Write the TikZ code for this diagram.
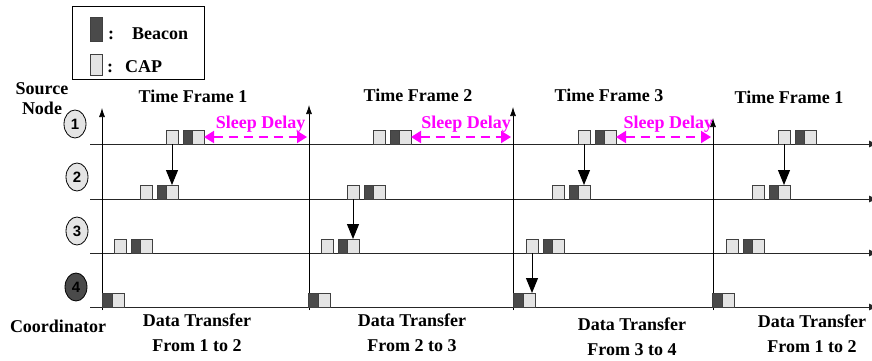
\documentclass[tikz,border=0pt]{standalone}
\usepackage{fontspec}
\setmainfont{Liberation Serif}
\newfontfamily\numfont{Liberation Sans}
\usepackage{tikz}
\usetikzlibrary{arrows.meta, positioning, shapes.geometric}
\definecolor{capgray}{HTML}{E4E4E4}
\definecolor{beacongray}{HTML}{4A4A4A}
\definecolor{sleepmag}{HTML}{FF00FF}
\tikzset{%
	every slot/.style={
		rectangle,
		draw=black!75,
		line width=0.8pt,
		minimum height=14pt,
		inner sep=0pt,
		outer sep=0pt
	},
	capbox/.style={
		every slot,
		fill=capgray,
		minimum width=12pt
	},
	beaconbox/.style={
		every slot,
		fill=beacongray,
		minimum width=9pt
	},
	src node/.style={
		ellipse,
		draw,
		line width=0.8pt,
		minimum width=22pt,
		minimum height=28pt,
		inner sep=0pt,
		font=\numfont\bfseries\fontsize{15}{15}\selectfont
	},
}

\begin{document}
\begin{tikzpicture}[
				x=1pt, y=-1pt,
				every node/.append style={font=\bfseries\fontsize{18}{25}\selectfont},
				data arrow/.style={-{Triangle[length=15pt,width=12pt]}, line width=1pt},
				sleep arrow/.style={{Triangle[length=10pt,width=12pt]}-{Triangle[length=10pt,width=12pt]},
					sleepmag, line width=2pt, dash pattern=on 9pt off 6pt},
				axis line/.style={-{Latex[length=9pt,width=6pt]}, line width=0.7pt}
				]
				\useasboundingbox (0,0) rectangle (872,360);

				% legend
				\draw[line width=0.8pt] (72,6) rectangle (204,79);
				\node[beaconbox, minimum width=12pt, minimum height=24pt] (lgbcn) at (96,29) {};
				\node[anchor=base west, inner sep=0pt] (lgbtxt) at (108,39) {:\hspace{18pt}Beacon};
				\node[capbox, minimum height=21pt] (lgcap) at (96,64.5) {};
				\node[anchor=base west, inner sep=0pt] (lgctxt) at (107,72) {:\hspace{12pt}CAP};

				% time lines
				\foreach \r/\y in {1/144, 2/199, 3/253, 4/307}
					\draw[line width=1pt, black!85, -{Latex[length=9pt,width=7pt]}] (90,\y) -- (878,\y);

				\node[align=center, font=\bfseries\fontsize{18}{20}\selectfont] (srclbl) at (42,99) {Source\\Node};
				\node (coordlbl) at (58,326) {Coordinator};

				\node[src node, fill=capgray] (n1) at (75,124) {1};
				\node[src node, fill=capgray] (n2) at (77,177) {2};
				\node[src node, fill=capgray] (n3) at (77,231) {3};
				\node[src node, fill=beacongray] (n4) at (76,287) {4};

				% frame borders
				\foreach \f/\xv/\top in {1/102/108, 2/309/105, 3/513/107, 4/713/118} {
					\coordinate (ax\f) at (\xv,310);
					\draw[axis line] (ax\f) -- (\xv,\top);
				}

				% beacon + CAP slots
				\foreach \f/\xs/\xv in {1/166/102, 2/373/308, 3/578/513, 4/778/712} {
					\foreach \r/\y in {1/144, 2/199, 3/253} {
						\node[capbox, anchor=south west] (ca\f\r) at ({\xs-26*(\r-1)},\y) {};
						\node[beaconbox, right=5pt of ca\f\r] (bc\f\r) {};
						\node[capbox, right=0pt of bc\f\r] (cb\f\r) {};
					}
					\node[beaconbox, minimum width=10pt, anchor=south west] (bc\f4) at (\xv,307) {};
					\node[capbox, right=0pt of bc\f4] (cb\f4) {};
				}

				\node (tf1) at (193,96) {Time Frame 1};
				\node (tf2) at (418,95) {Time Frame 2};
				\node (tf3) at (609,95) {Time Frame 3};
				\node (tf4) at (789,97) {Time Frame 1};

				% forwarding
				\draw[data arrow] (ca11.south) -- (ca11.south |- cb12.north);
				\draw[data arrow] (ca22.south) -- (ca22.south |- cb23.north);
				\draw[data arrow] (ca31.south) -- (ca31.south |- cb32.north);
				\draw[data arrow] (ca33.south) -- (ca33.south |- cb34.north);
				\draw[data arrow] (ca41.south) -- (ca41.south |- cb42.north);

				\foreach \f/\g in {1/2, 2/3, 3/4}
					\draw[sleep arrow, shorten >=2pt] (cb\f1.east) -- (cb\f1.east -| ax\g)
						node[pos=0.54, above=3pt, inner sep=1pt, text=sleepmag] (sd\f) {Sleep Delay};

				\node[align=center] (dt1) at (197,333) {Data Transfer\\From 1 to 2};
				\node[align=center] (dt2) at (412,333) {Data Transfer\\From 2 to 3};
				\node[align=center] (dt3) at (632,337) {Data Transfer\\From 3 to 4};
				\node[align=center] (dt4) at (812,334) {Data Transfer\\From 1 to 2};
			\end{tikzpicture}
\end{document}
